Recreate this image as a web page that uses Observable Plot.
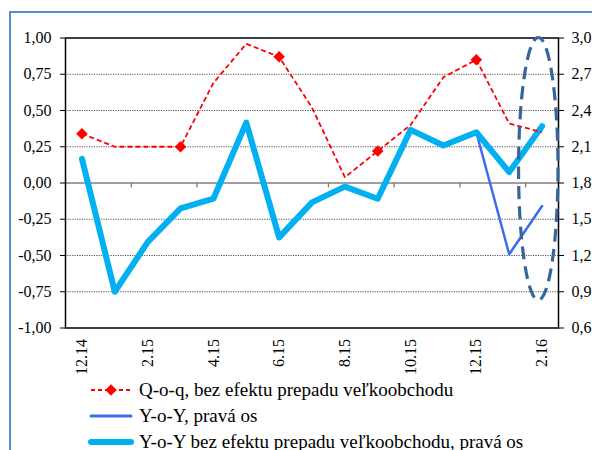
<!DOCTYPE html>
<html><head><meta charset="utf-8">
<script src="https://cdn.jsdelivr.net/npm/d3@7"></script>
<script src="https://cdn.jsdelivr.net/npm/@observablehq/plot@0.6"></script>
<style>
html,body{margin:0;padding:0;background:#fff;overflow:hidden;width:592px;height:450px}
#wrap{position:relative;width:592px;height:450px;overflow:hidden}
#border{position:absolute;left:9px;top:11px;width:600px;height:500px;border-left:2px solid #5B8BD3;border-top:2px solid #5B8BD3;pointer-events:none}
.legend{position:absolute;left:88px;top:377px;font-family:"Liberation Serif","Times New Roman",Times,"DejaVu Serif",serif;font-size:19px;color:#000;white-space:nowrap}
.row{display:flex;align-items:center;height:26px}
.row svg{margin-right:5px;flex:none}
</style></head><body><div id="wrap"><div id="chart"></div><div class="legend" id="legend"></div><div id="border"></div></div>
<script>
// ---- data ----
const months = ["12.14","1.15","2.15","3.15","4.15","5.15","6.15","7.15","8.15","9.15","10.15","11.15","12.15","1.16","2.16"];
const qoq    = [0.34,0.25,0.25,0.25,0.69,0.96,0.87,0.52,0.04,0.22,0.40,0.73,0.85,0.41,0.35];
const qoqMarked = ["12.14","3.15","6.15","9.15","12.15"];
const yoy    = [2.00,0.90,1.31,1.59,1.67,2.30,1.35,1.64,1.77,1.67,2.24,2.11,2.22,1.21,1.61];
const yoyAdj = [2.00,0.90,1.31,1.59,1.67,2.30,1.35,1.64,1.77,1.67,2.24,2.11,2.22,1.89,2.27];
const leftTicks  = [-1,-0.75,-0.5,-0.25,0,0.25,0.5,0.75,1];
const rightTicks = [0.6,0.9,1.2,1.5,1.8,2.1,2.4,2.7,3.0];
const xLabels = ["12.14","2.15","4.15","6.15","8.15","10.15","12.15","2.16"];
const names = ["Q-o-q, bez efektu prepadu veľkoobchodu","Y-o-Y, pravá os","Y-o-Y bez efektu prepadu veľkoobchodu, pravá os"];
// highlighted period (dashed ellipse), in data units
const highlight = {month:"2.16", shift:-0.1, halfWidth:0.6, top:1.0, bottom:-0.81};

// ---- helpers ----
const FONT = "'Liberation Serif', 'Times New Roman', Times, 'DejaVu Serif', serif";
const rightMin = 0.6, rightMax = 3.0;
const toLeft  = r => Math.round((-1 + 2*(r-rightMin)/(rightMax-rightMin))*1e6)/1e6;
const toRight = l => rightMin + (l+1)/2*(rightMax-rightMin);
const fmt = v => v.toFixed(2).replace(".", ",");
const fmtR = v => v.toFixed(1).replace(".", ",");

const rows = months.map((m,i)=>({i, m, qoq:qoq[i], yoy:toLeft(yoy[i]), yoyAdj:toLeft(yoyAdj[i])}));
const boundaries = xLabels.slice(1).map(l => months.indexOf(l) - 0.5);
const labelIdx = xLabels.map(l => months.indexOf(l));
const grid = leftTicks.filter(t => t!==0 && Math.abs(t)!==1);

const H = 380, mT = 37.5, mB = 52.5;
const yPerPx = 2/(H-mT-mB);

const plot = Plot.plot({
  width:592, height:H, marginTop:mT, marginBottom:mB, marginLeft:65, marginRight:34,
  style:{fontFamily:FONT, fontSize:"16px", background:"transparent", color:"#000"},
  x:{type:"linear", domain:[-0.5, months.length-0.5]},
  y:{domain:[-1,1]},
  marks:[
    Plot.ruleY(grid, {stroke:"#555", strokeWidth:1, strokeDasharray:"1.2,1.2"}),
    Plot.ruleY([0], {stroke:"#7f7f7f", strokeWidth:1.3}),
    Plot.ruleX(boundaries, {x:d=>d, y1:0, y2:-5*yPerPx, stroke:"#7f7f7f", strokeWidth:1.3}),
    Plot.line(rows, {x:"i", y:"yoy", stroke:"#3C6DF0", strokeWidth:2.5}),
    Plot.line(rows, {x:"i", y:"yoyAdj", stroke:"#00B0F0", strokeWidth:6}),
    Plot.line(rows, {x:"i", y:"qoq", stroke:"#FF0000", strokeWidth:1.8, strokeDasharray:"5,3", strokeLinecap:"butt"}),
    Plot.dot(rows.filter(r=>qoqMarked.includes(r.m)), {x:"i", y:"qoq", symbol:"diamond2", r:5.2, fill:"#FF0000", stroke:"none"}),
    Plot.frame({stroke:"#000", strokeWidth:1.5}),
    Plot.axisY({ticks:leftTicks, anchor:"left", tickFormat:fmt, tickSize:5, tickPadding:9, label:null, fontFamily:FONT, fontSize:16}),
    Plot.axisY({ticks:rightTicks.map(toLeft), anchor:"right", tickFormat:d=>fmtR(toRight(d)), tickSize:5, tickPadding:8, label:null, fontFamily:FONT, fontSize:16}),
    Plot.axisX({ticks:labelIdx, anchor:"bottom", tickFormat:i=>months[i], tickRotate:-90, tickSize:0, tickPadding:11, label:null, fontFamily:FONT, fontSize:16})
  ]
});

// dashed ellipse annotation using the plot's scales
const sx = plot.scale("x"), sy = plot.scale("y");
const ci = months.indexOf(highlight.month) + highlight.shift;
const cx = sx.apply(ci), rx = sx.apply(ci + highlight.halfWidth) - cx;
const yTop = sy.apply(highlight.top), yBot = sy.apply(highlight.bottom);
d3.select(plot).append("ellipse")
  .attr("cx", cx).attr("cy", (yTop+yBot)/2).attr("rx", rx).attr("ry", (yBot-yTop)/2)
  .attr("fill","none").attr("stroke","#36659B").attr("stroke-width",3.2).attr("stroke-dasharray","13,7");

document.getElementById("chart").appendChild(plot);

// ---- legend ----
const legend = d3.select("#legend");
const styles = [
  {stroke:"#FF0000", w:1.8, dash:"4,3", marker:true, cap:"butt"},
  {stroke:"#3C6DF0", w:3, dash:null, marker:false, cap:"round"},
  {stroke:"#00B0F0", w:6, dash:null, marker:false, cap:"round"}
];
names.forEach((n,k)=>{
  const s = styles[k];
  const row = legend.append("div").attr("class","row");
  const svg = row.append("svg").attr("width",46).attr("height",26);
  svg.append("line").attr("x1",3).attr("x2",43).attr("y1",13).attr("y2",13)
    .attr("stroke",s.stroke).attr("stroke-width",s.w).attr("stroke-dasharray",s.dash).attr("stroke-linecap",s.cap);
  if (s.marker) svg.append("path").attr("transform","translate(23,13)").attr("d", d3.symbol(d3.symbolDiamond2, 85)()).attr("fill","#FF0000");
  row.append("span").text(n);
});
</script></body></html>
